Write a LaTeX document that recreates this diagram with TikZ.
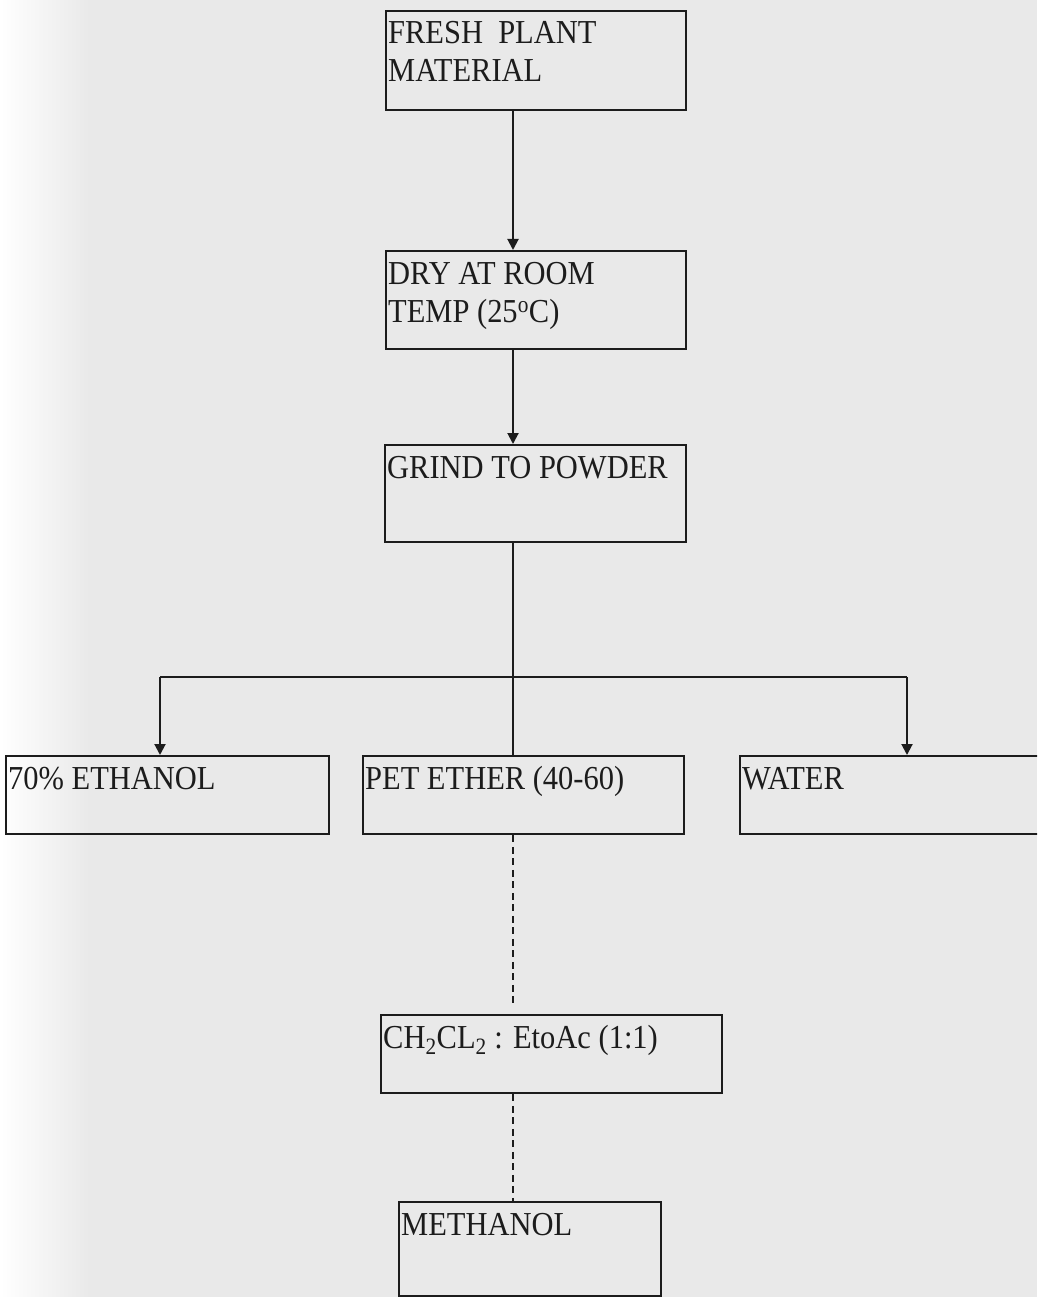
\documentclass[tikz,border=0pt]{standalone}
\usepackage{fontspec}
\setmainfont{Liberation Serif}[FakeStretch=0.91]
\usetikzlibrary{arrows.meta}
\definecolor{paper}{RGB}{233,233,233}
\definecolor{ink}{RGB}{28,28,28}
\begin{document}
\begin{tikzpicture}[x=1pt,y=-1pt,
  box/.style={draw=ink, line width=2.3pt, inner sep=0pt, anchor=north west},
  lbl/.style={inner sep=0pt, anchor=base west, align=left, font=\fontsize{33.5}{38}\selectfont, text=ink},
  flow/.style={line width=2pt, draw=ink},
  tip/.style={-{Triangle[length=11pt,width=11pt]}},
  dashline/.style={dash pattern=on 7pt off 4.5pt}]
\clip (0,0) rectangle (1037,1297);
\fill[paper] (0,0) rectangle (1037,1297);
\shade[left color=white, right color=paper] (0,0) rectangle (90,1297);

% boxes
\node[box, minimum width=300pt, minimum height=99pt] (b1) at (385,10) {};
\node[box, minimum width=300pt, minimum height=98pt] (b2) at (385,250) {};
\node[box, minimum width=301pt, minimum height=97pt] (b3) at (384,444) {};
\node[box, minimum width=323pt, minimum height=78pt] (eth) at (5,755) {};
\node[box, minimum width=321pt, minimum height=78pt] (pet) at (362,755) {};
\node[box, minimum width=310pt, minimum height=78pt] (wat) at (739,755) {};
\node[box, minimum width=341pt, minimum height=78pt] (dcm) at (380,1014) {};
\node[box, minimum width=262pt, minimum height=94pt] (meo) at (398,1201) {};

% labels (base anchor of a two-line label is its last line)
\node[lbl] (t1) at ([xshift=3pt,yshift=-72pt]b1.north west) {FRESH\ \ PLANT\\MATERIAL};
\node[lbl] (t2) at ([xshift=3pt,yshift=-72pt]b2.north west) {DRY AT ROOM\\TEMP (25\textsuperscript{o}C)};
\node[lbl] (t3) at ([xshift=3pt,yshift=-34pt]b3.north west) {GRIND TO POWDER};
\node[lbl] (t4) at ([xshift=3pt,yshift=-34pt]eth.north west) {70\% ETHANOL};
\node[lbl] (t5) at ([xshift=3pt,yshift=-34pt]pet.north west) {PET ETHER (40-60)};
\node[lbl] (t6) at ([xshift=3pt,yshift=-34pt]wat.north west) {WATER};
\node[lbl] (t7) at ([xshift=3pt,yshift=-34pt]dcm.north west) {CH\textsubscript{2}CL\textsubscript{2} : EtoAc (1:1)};
\node[lbl] (t8) at ([xshift=3pt,yshift=-34pt]meo.north west) {METHANOL};

% connectors
\coordinate (j) at (513,677);
\coordinate (jl) at (160,677);
\coordinate (jr) at (907,677);
\draw[flow,tip] (b1.south -| j) -- (b2.north -| j);
\draw[flow,tip] (b2.south -| j) -- (b3.north -| j);
\draw[flow] (b3.south -| j) -- (pet.north -| j);
\draw[flow] (jl) -- (jr);
\draw[flow,tip] (jl) -- (eth.north -| jl);
\draw[flow,tip] (jr) -- (wat.north -| jr);
\draw[flow,dashline,shorten >=9pt] (pet.south -| j) -- (dcm.north -| j);
\draw[flow,dashline] (dcm.south -| j) -- (meo.north -| j);
\end{tikzpicture}
\end{document}
